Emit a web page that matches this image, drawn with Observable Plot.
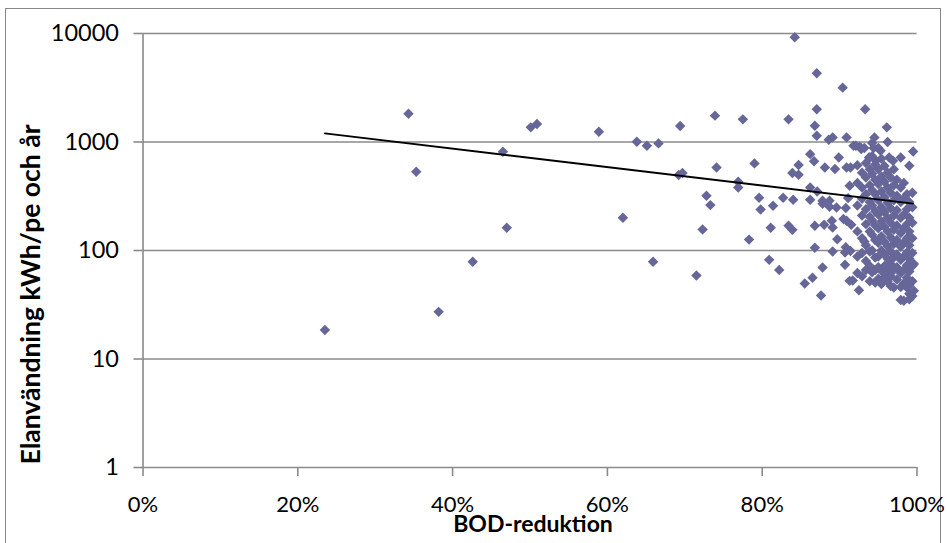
<!DOCTYPE html>
<html><head><meta charset="utf-8">
<script src="https://cdn.jsdelivr.net/npm/d3@7"></script>
<script src="https://cdn.jsdelivr.net/npm/@observablehq/plot@0.6"></script>
<style>
html,body{margin:0;padding:0;background:#fff;overflow:hidden;width:947px;height:543px}
#wrap{position:relative;width:947px;height:543px}
#frame{position:absolute;left:5px;top:7.5px;width:936px;height:560px;border:1.5px solid #888;box-sizing:border-box}
#chart{position:absolute;left:0;top:0}
</style></head><body><div id="wrap"><div id="frame"></div><div id="chart"></div></div>
<script>
// scattered observations: BOD reduction (%) and electricity use (kWh/pe och år)
const bodPct = [
  23.5, 34.3, 35.3, 38.2, 42.6, 46.5, 47.0, 50.1, 50.9, 58.9, 62.0, 63.8, 65.1, 66.6, 65.9, 69.4,
  69.2, 69.7, 71.5, 72.3, 72.8, 73.3, 73.9, 74.1, 76.9, 76.9, 77.5, 78.3, 79.0, 79.6, 79.8, 80.9,
  81.1, 81.4, 82.2, 82.7, 83.4, 83.4, 83.9, 83.9, 84.0, 84.2, 84.7, 84.7, 85.5, 86.2, 86.7, 86.2,
  86.2, 86.5, 86.8, 86.8, 86.8, 87.05, 87.05, 87.05, 87.1, 87.6, 87.8, 87.8, 87.8, 88.0, 88.1, 88.6,
  88.7, 88.7, 89.0, 89.1, 89.1, 89.1, 89.4, 89.6, 89.7, 89.9, 90.4, 90.5, 90.7, 90.7, 90.9, 90.9,
  91.3, 91.4, 91.3, 91.1, 90.8, 90.9, 91.5, 91.4, 90.8, 91.7, 92.5, 91.8, 92.1, 92.8, 92.6, 93.3,
  93.2, 93.8, 94.5, 94.4, 95.3, 96.1, 96.2, 97.9, 99.0, 99.5, 93.9, 94.7, 96.4, 96.9
];
const kwhPe = [
  18.5, 1824, 532, 27.2, 78.7, 813, 162, 1364, 1466, 1245, 200, 1006, 925, 971, 78.7, 1405,
  496, 518, 58.8, 156, 320, 262, 1749, 583, 430, 381, 1617, 126, 635, 306, 239, 82,
  162, 258, 66, 306, 1617, 169, 155, 517, 294, 9226, 613, 500, 49.6, 773, 664, 381,
  294, 56, 1414, 169, 106, 4296, 2000, 1143, 350, 38.5, 69.7, 288, 270, 173, 583, 1050,
  288, 253, 188, 163, 1103, 98, 563, 249, 127, 721, 3170, 195, 74, 96, 1103, 583,
  52.5, 583, 395, 304, 246, 188, 173, 99, 107, 53, 43, 925, 925, 861, 906, 2000,
  881, 721, 1103, 881, 831, 1364, 1000, 721, 604, 819, 721, 672, 721, 672
];
// dense cluster near 92-100 %: one BOD value per column, several kWh values each
const clusterBodPct = [92.3, 92.9, 93.2, 93.4, 93.9, 94.2, 94.6, 95.0, 95.4, 95.8, 96.2, 96.6, 97.0, 97.4, 97.9, 98.3, 98.7, 99.0, 99.4, 99.6];
const clusterKwhPe = [
  [610, 420, 260, 150, 88, 62],
  [520, 380, 300, 210, 130, 95, 58],
  [121],
  [640, 470, 330, 240, 175, 112, 80, 66],
  [560, 400, 280, 205, 150, 98, 72, 52],
  [980, 740, 510, 360, 260, 190, 140, 100, 63],
  [620, 450, 330, 230, 170, 125, 86, 66, 50.7],
  [880, 560, 410, 290, 215, 160, 118, 88, 70, 55],
  [700, 480, 350, 250, 185, 135, 100, 65, 49],
  [600, 430, 310, 225, 165, 120, 92, 72, 57],
  [520, 380, 275, 200, 150, 110, 84, 65, 52],
  [470, 340, 245, 180, 132, 98, 75, 58, 47],
  [560, 400, 290, 210, 155, 115, 86, 66, 45.6],
  [450, 320, 235, 170, 125, 92, 70, 54],
  [380, 280, 200, 145, 108, 82, 62, 46, 35],
  [420, 300, 215, 160, 118, 88, 66, 50, 34.4],
  [330, 240, 175, 130, 96, 73, 56, 45.6],
  [280, 200, 150, 112, 84, 64, 48, 40, 35.6],
  [340, 250, 180, 130, 95, 72, 52, 38],
  [75, 42.5]
];
// exponential trendline end points
const trendBodPct = [23.5, 99.5];
const trendKwhPe = [1200, 271];

const xTicks = [0, 0.2, 0.4, 0.6, 0.8, 1];
const yTicks = [1, 10, 100, 1000, 10000];
const xTitle = "BOD-reduktion";
const yTitle = "Elanvändning kWh/pe och år";

const points = bodPct.map((b, i) => ({x: b / 100, y: kwhPe[i]}));
clusterBodPct.forEach((b, i) => clusterKwhPe[i].forEach(v => points.push({x: b / 100, y: v})));
const trend = trendBodPct.map((b, i) => ({x: b / 100, y: trendKwhPe[i]}));

const chart = Plot.plot({
  width: 947, height: 543,
  marginLeft: 142.5, marginRight: 30.5, marginTop: 33, marginBottom: 76,
  x: {domain: [0, 1]},
  y: {type: "log", domain: [1, 10000]},
  style: {fontFamily: "Lato, sans-serif", fontSize: "21px", color: "#000", background: "transparent"},
  marks: [
    Plot.ruleY(yTicks, {stroke: "#8a8a8a", strokeWidth: 1.6}),
    Plot.ruleX([0], {stroke: "#8a8a8a", strokeWidth: 1.6}),
    Plot.axisY(yTicks, {tickSize: 9, tickPadding: 15, tickFormat: d => String(d), stroke: "#8a8a8a", strokeWidth: 1.6, fontSize: 23.5, label: null}),
    Plot.axisX(xTicks, {tickSize: 9, tickPadding: 20, tickFormat: d3.format(".0%"), stroke: "#8a8a8a", strokeWidth: 1.6, fontSize: 22, label: null}),
    Plot.dot(points, {x: "x", y: "y", symbol: "diamond2", r: 4.7, fill: "#666699", stroke: "none"}),
    Plot.line(trend, {x: "x", y: "y", stroke: "#000", strokeWidth: 1.8}),
    Plot.text([yTitle], {text: d => d, frameAnchor: "left", textAnchor: "middle", lineAnchor: "middle", dx: -111.5, dy: 44, rotate: -90, fontWeight: "bold", fontSize: 26.5}),
    Plot.text([xTitle], {text: d => d, frameAnchor: "bottom", textAnchor: "middle", lineAnchor: "middle", dx: 3, dy: 57, fontWeight: "bold", fontSize: 23})
  ]
});
document.getElementById("chart").appendChild(chart);
</script>
</body></html>
